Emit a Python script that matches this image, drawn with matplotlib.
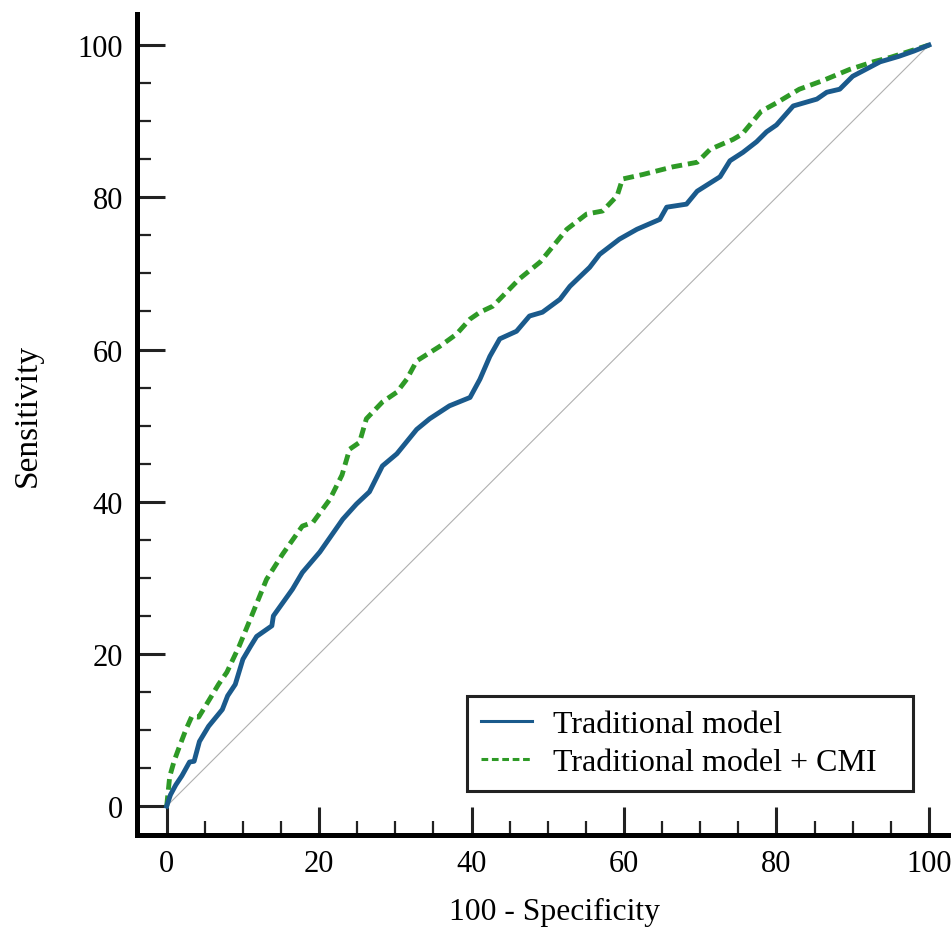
import matplotlib
matplotlib.use("Agg")
import matplotlib.pyplot as plt

plt.rcParams["font.family"] = ["Liberation Serif", "DejaVu Serif"]

# 100 - specificity / sensitivity
trad_x = [0, 0.5, 1.2, 2.0, 3.0, 3.6, 4.3, 5.5, 7.3, 8.0, 9.0, 10.0, 11.0,
          11.8, 13.8, 14.0, 16.5, 17.8, 20.1, 23.1, 24.9, 26.6, 28.3, 30.2,
          32.8, 34.5, 37.1, 39.8, 41.1, 42.4, 43.7, 45.9, 47.6, 49.3, 51.6,
          52.9, 55.5, 56.8, 59.4, 61.7, 64.7, 65.6, 68.2, 69.6, 72.6, 73.9,
          75.6, 77.4, 78.7, 80.0, 82.2, 85.3, 86.6, 88.3, 90.0, 93.6, 96.0,
          98.0, 100]
trad_y = [0, 1.5, 2.8, 4.0, 5.8, 5.9, 8.5, 10.5, 12.7, 14.5, 16.0, 19.3,
          21.0, 22.3, 23.7, 25.0, 28.5, 30.7, 33.4, 37.7, 39.7, 41.3, 44.7,
          46.3, 49.5, 50.9, 52.6, 53.7, 56.1, 59.1, 61.4, 62.4, 64.4, 64.9,
          66.6, 68.3, 70.8, 72.5, 74.5, 75.8, 77.1, 78.7, 79.1, 80.8, 82.7,
          84.8, 85.9, 87.3, 88.6, 89.5, 92.0, 92.9, 93.8, 94.2, 95.9, 97.8,
          98.5, 99.2, 100]

cmi_x = [0, 0.4, 1.0, 1.7, 2.5, 3.3, 4.2, 5.6, 6.8, 7.9, 9.5, 10.9, 13.1,
         15.2, 17.8, 19.2, 21.4, 23.0, 24.0, 25.3, 26.2, 28.3, 30.2, 31.5,
         32.8, 35.8, 38.0, 39.8, 41.1, 42.8, 46.3, 49.0, 52.5, 55.1, 57.2,
         59.1, 59.8, 62.5, 66.4, 69.6, 71.3, 74.3, 75.5, 78.0, 80.0, 83.0,
         86.0, 89.6, 92.7, 95.0, 97.5, 100]
cmi_y = [0, 3.9, 6.0, 7.9, 10.0, 11.8, 11.7, 14.0, 16.0, 17.6, 21.0, 24.4,
         29.8, 33.1, 36.8, 37.3, 40.3, 43.5, 46.9, 47.8, 50.9, 53.1, 54.4,
         56.1, 58.5, 60.4, 62.0, 64.0, 64.9, 65.7, 69.3, 71.5, 75.8, 77.8,
         78.2, 80.2, 82.4, 83.0, 84.0, 84.6, 86.3, 87.6, 88.3, 91.3, 92.4,
         94.2, 95.3, 96.8, 97.8, 98.4, 99.2, 100]

labels = ["Traditional model", "Traditional model + CMI"]
major_ticks = [0, 20, 40, 60, 80, 100]
minor_ticks = list(range(0, 101, 5))

fig = plt.figure(figsize=(9.51, 9.29), dpi=100)
ax = fig.add_axes([0.144, 0.100, 0.856, 0.884])

ax.plot([0, 100], [0, 100], color="#b0b0b0", linewidth=0.8, zorder=1)
ax.plot(trad_x, trad_y, color="#1a5a8c", linewidth=3.5, label=labels[0],
        zorder=3)
ax.plot(cmi_x, cmi_y, color="#2e9a26", linewidth=3.5, linestyle=(0, (2.2, 1.2)),
        label=labels[1], zorder=2)

ax.set_xlim(-3.9, 102.9)
ax.set_ylim(-3.8, 104.1)

for side in ["top", "right"]:
    ax.spines[side].set_visible(False)
for side in ["left", "bottom"]:
    ax.spines[side].set_linewidth(3.6)

ax.set_xticks(major_ticks)
ax.set_yticks(major_ticks)
ax.set_xticks(minor_ticks, minor=True)
ax.set_yticks(minor_ticks, minor=True)
ax.tick_params(which="major", direction="in", length=20, width=2.2,
               labelsize=22, color="#222222", pad=10)
ax.tick_params(which="minor", direction="in", length=10, width=1.6,
               color="#222222")

ax.set_xlabel("100 - Specificity", fontsize=22.8)
ax.set_ylabel("Sensitivity", fontsize=24)
ax.xaxis.set_label_coords(0.5135, -0.075)
ax.yaxis.set_label_coords(-0.116, 0.512)

leg = ax.legend(loc="lower left", bbox_to_anchor=(0.405, 0.0536, 0.548, 0.1),
                mode="expand", fontsize=23, fancybox=False, framealpha=1,
                edgecolor="#222222", handlelength=1.6, borderpad=0.45,
                labelspacing=0.25, handletextpad=0.65, borderaxespad=0)
leg.get_frame().set_linewidth(2.2)
for line in leg.get_lines():
    line.set_linewidth(2.2)

fig.savefig("out.png", dpi=100)
